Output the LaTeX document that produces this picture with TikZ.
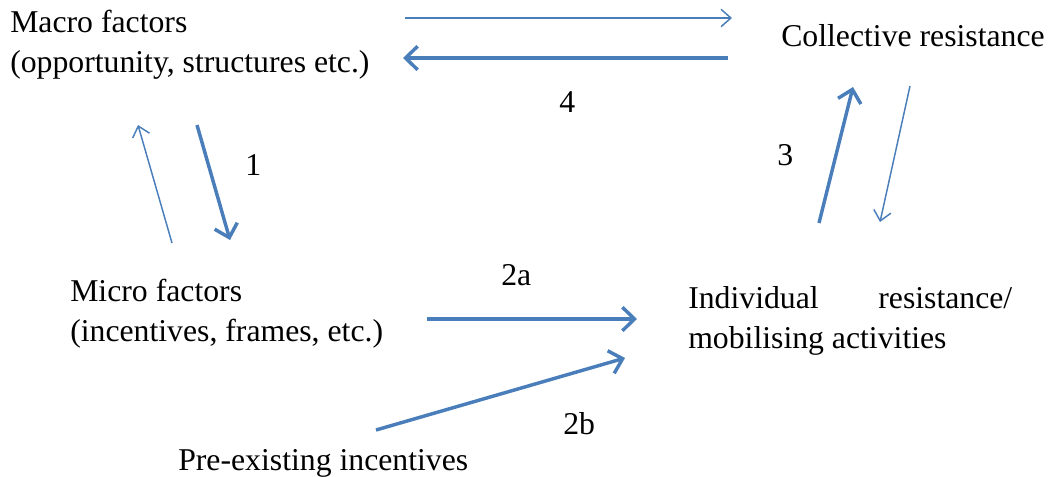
\documentclass[tikz,border=0pt]{standalone}
\usepackage{fontspec}
\setmainfont{Liberation Serif}
\usepackage{tikz}
\usetikzlibrary{arrows.meta,positioning}
\definecolor{linkblue}{HTML}{4A7EBB}
\tikzset{
  factor/.style={align=left, inner sep=0pt, anchor=base west, font=\fontsize{23.8}{29.3}\selectfont},
  numlabel/.style={inner sep=0pt, anchor=base west, font=\fontsize{23.8}{29.3}\selectfont},
  thickarrow/.style={draw=linkblue, line width=2.6pt, -{Straight Barb[length=3.2mm,width=6.2mm,line width=2.6pt]}},
  thinarrow/.style={draw=linkblue, line width=1.1pt, -{Straight Barb[length=2.6mm,width=4.6mm,line width=1.1pt]}}
}
\begin{document}
\begin{tikzpicture}[x=0.75pt,y=-0.75pt]
\useasboundingbox (0,0) rectangle (1050,476);
% text blocks (base = last line)
\node[factor] (macro) at (10,72) {Macro factors\\(opportunity, structures etc.)};
\node[factor] (collective) at (781,46) {Collective resistance};
\node[factor] (micro) at (70,341) {Micro factors\\(incentives, frames, etc.)};
\node[factor] (individual) at (688,348) {\makebox[243pt][s]{Individual\hfill resistance/}\\mobilising activities};
\node[factor] (preexisting) at (178,470) {Pre-existing incentives};
% numbers
\node[numlabel] (n4) at (559,112) {4};
\node[numlabel] (n1) at (245,175) {1};
\node[numlabel] (n3) at (777,165) {3};
\node[numlabel] (n2a) at (501,285) {2a};
\node[numlabel] (n2b) at (563,434) {2b};
% arrow ends
\coordinate (mcR) at (405,18);   \coordinate (crL) at (732,18);
\coordinate (crB) at (728,58);   \coordinate (mcB) at (403,58);
\coordinate (miU) at (172,243);  \coordinate (maD) at (138,125);
\coordinate (maS) at (197,125);  \coordinate (miT) at (230,240);
\coordinate (irU) at (819,223);  \coordinate (crD) at (853,87);
\coordinate (crS) at (910,86);   \coordinate (irT) at (880,222);
\coordinate (miR) at (427,319);  \coordinate (irL) at (637,319);
\coordinate (peR) at (376,430);  \coordinate (irB) at (625,358);
% links
\draw[thinarrow] (mcR) -- (crL);
\draw[thickarrow] (crB) -- (mcB);
\draw[thinarrow] (miU) -- (maD);
\draw[thickarrow] (maS) -- (miT);
\draw[thickarrow] (irU) -- (crD);
\draw[thinarrow] (crS) -- (irT);
\draw[thickarrow] (miR) -- (irL);
\draw[thickarrow] (peR) -- (irB);
\end{tikzpicture}
\end{document}
